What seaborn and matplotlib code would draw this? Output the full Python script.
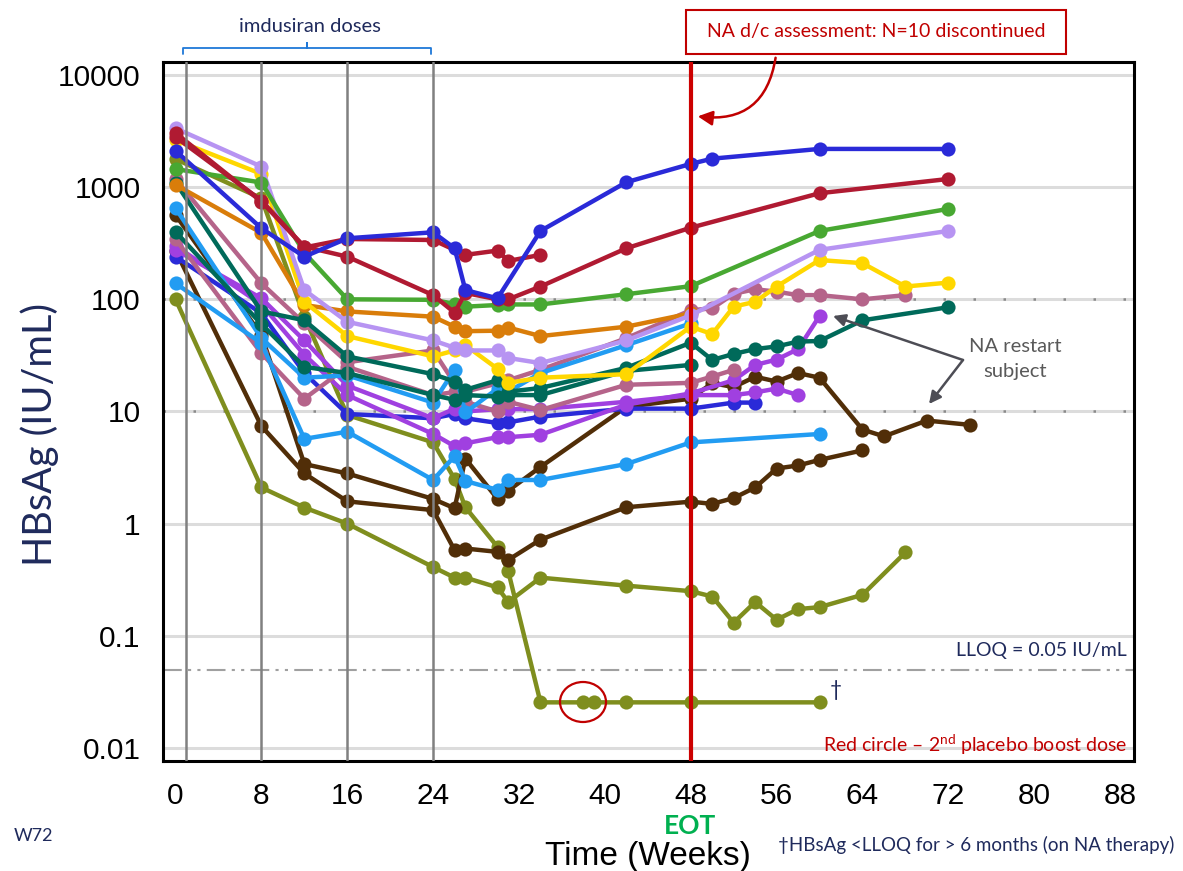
import numpy as np
import pandas as pd
import matplotlib
matplotlib.use("Agg")
import matplotlib.pyplot as plt
import seaborn as sns
from matplotlib.patches import Ellipse, FancyArrowPatch, Rectangle
from matplotlib.lines import Line2D
from matplotlib.ticker import LogLocator, NullFormatter

# ---------------- data (weeks, HBsAg IU/mL) ----------------
wk_blue_hi = [0, 8, 12, 16, 24, 26, 27, 30, 34, 42, 48, 50, 60, 72]
hb_blue_hi = [2110, 430, 240, 350, 396, 285, 121, 102, 407, 1107, 1612, 1795, 2193, 2190]

wk_crimson_a = [0, 8, 12, 16, 24, 26, 27, 30, 31, 34, 42, 48, 60, 72]
hb_crimson_a = [3040, 743, 295, 240, 109, 76, 114, 100, 100, 130, 285, 435, 883, 1183]

wk_crimson_b = [0, 8, 12, 16, 24, 27, 30, 31, 34]
hb_crimson_b = [2800, 760, 290, 345, 338, 249, 272, 220, 249]

wk_green = [0, 8, 12, 16, 24, 26, 27, 30, 31, 34, 42, 48, 60, 72]
hb_green = [1450, 1100, 260, 100, 99, 91, 86, 89, 90, 90, 111, 131, 407, 640]

wk_lavender = [0, 8, 12, 16, 24, 26, 27, 30, 31, 34, 42, 48, 60, 72]
hb_lavender = [3350, 1524, 121, 63, 43, 37, 35, 35, 30, 27, 43, 72, 276, 407]

wk_yellow = [0, 8, 12, 16, 24, 26, 27, 30, 31, 34, 42, 48, 50, 52, 54, 56, 60, 64, 68, 72]
hb_yellow = [2630, 1312, 95, 47, 31, 35, 39, 24, 18, 20, 21.5, 57, 49, 86, 95, 130, 224, 210, 130, 141]

wk_orange = [0, 8, 12, 16, 24, 26, 27, 30, 31, 34, 42, 48]
hb_orange = [1050, 391, 89, 78, 70, 57, 52, 52.5, 56, 47, 57, 75]

wk_teal_a = [0, 8, 12, 16, 24, 26, 27, 30, 31, 34, 42, 48, 50, 52, 54, 56, 58, 60, 64, 72]
hb_teal_a = [1100, 78, 65, 31, 21.5, 18.5, 15.6, 19, 15, 16.2, 24.5, 41, 28.8, 32.6, 36, 38, 42, 42.5, 65, 85]

wk_teal_b = [0, 8, 12, 16, 24, 26, 27, 30, 31, 34, 42, 48]
hb_teal_b = [400, 60, 25, 22, 14, 12.7, 14, 13.6, 14, 14, 23, 26]

wk_ltblue_a = [0, 8, 12, 16, 24, 26, 27, 30, 31, 34, 42, 48]
hb_ltblue_a = [650, 45, 20, 21, 12, 23.5, 9.8, 16, 15, 22, 39, 61]

wk_ltblue_b = [0, 8, 12, 16, 24, 26, 27, 30, 31, 34, 42, 48, 60]
hb_ltblue_b = [139, 40.6, 5.7, 6.6, 2.45, 4.0, 2.4, 2.0, 2.45, 2.45, 3.4, 5.3, 6.3]

wk_mauve_a = [0, 8, 12, 16, 24, 26, 27, 30, 31, 34, 42, 48, 50, 52, 54, 56, 58, 60, 64, 68]
hb_mauve_a = [1175, 139, 61, 27.5, 35, 17.8, 15, 17.8, 19, 23.5, 45, 80, 83, 112, 123, 117, 109, 109, 100, 109]

wk_mauve_b = [0, 8, 12, 16, 24, 26, 27, 30, 31, 34, 42, 48, 50, 52]
hb_mauve_b = [344, 33, 13, 25, 14, 14.9, 12.2, 10, 12.2, 10.3, 17.3, 18, 20.5, 23.5]

wk_purple_a = [0, 8, 12, 16, 24, 26, 27, 30, 31, 34, 42, 48, 52, 54, 56, 58]
hb_purple_a = [276, 102, 43, 17, 8.7, 10.6, 10, 10.5, 10.5, 10.5, 12.2, 14, 14, 14.8, 16, 14]

wk_purple_b = [0, 8, 12, 16, 24, 26, 27, 30, 31, 34, 42, 48, 52, 54, 56, 58, 60]
hb_purple_b = [300, 90, 32, 14, 6.3, 4.9, 5.2, 5.9, 5.9, 6.2, 11.5, 14.5, 19, 26, 29, 36, 71]

wk_blue_lo = [0, 8, 12, 16, 24, 26, 27, 30, 31, 34, 42, 48, 52, 54]
hb_blue_lo = [240, 75, 22, 9.5, 8.7, 9.5, 8.7, 7.9, 8, 9, 10.6, 10.6, 12, 12]

wk_brown_a = [0, 8, 12, 16, 24, 26, 27, 30, 31, 34, 42, 48, 50, 52, 54, 56, 58, 60, 64, 66, 70, 74]
hb_brown_a = [565, 48, 3.4, 2.8, 1.66, 1.37, 3.8, 1.66, 1.97, 3.2, 11, 13, 17.9, 16.5, 20.4, 18.5, 22, 20, 6.9, 6.0, 8.3, 7.6]

wk_brown_b = [0, 8, 12, 16, 24, 26, 27, 30, 31, 34, 42, 48, 50, 52, 54, 56, 58, 60, 64]
hb_brown_b = [272, 7.4, 2.8, 1.58, 1.32, 0.58, 0.6, 0.56, 0.475, 0.72, 1.4, 1.57, 1.5, 1.69, 2.1, 3.1, 3.3, 3.7, 4.5]

wk_olive_a = [0, 8, 12, 16, 24, 26, 27, 30, 31, 34, 42, 48, 50, 52, 54, 56, 58, 60, 64, 68]
hb_olive_a = [100, 2.1, 1.39, 1.0, 0.41, 0.33, 0.33, 0.27, 0.2, 0.33, 0.28, 0.25, 0.224, 0.131, 0.2, 0.139, 0.173, 0.18, 0.232, 0.553]

wk_olive_b = [0, 8, 12, 16, 24, 26, 27, 30, 31, 34, 38, 39, 42, 48, 60]
hb_olive_b = [1780, 795, 70, 9.3, 5.3, 2.5, 1.4, 0.62, 0.375, 0.0255, 0.0255, 0.0255, 0.0255, 0.0255, 0.0255]

subject_names = ["S01", "S02", "S03", "S04", "S05", "S06", "S07", "S08", "S09", "S10",
                 "S11", "S12", "S13", "S14", "S15", "S16", "S17", "S18", "S19", "S20"]
subject_weeks = [wk_olive_b, wk_olive_a, wk_brown_b, wk_brown_a, wk_blue_lo, wk_purple_b, wk_purple_a,
                 wk_mauve_b, wk_mauve_a, wk_ltblue_b, wk_ltblue_a, wk_teal_b, wk_teal_a, wk_orange,
                 wk_yellow, wk_lavender, wk_green, wk_crimson_b, wk_crimson_a, wk_blue_hi]
subject_vals = [hb_olive_b, hb_olive_a, hb_brown_b, hb_brown_a, hb_blue_lo, hb_purple_b, hb_purple_a,
                hb_mauve_b, hb_mauve_a, hb_ltblue_b, hb_ltblue_a, hb_teal_b, hb_teal_a, hb_orange,
                hb_yellow, hb_lavender, hb_green, hb_crimson_b, hb_crimson_a, hb_blue_hi]
subject_colors = ["#7F8E1E", "#7F8E1E", "#512E08", "#512E08", "#2A2AD8", "#A040E0", "#A040E0",
                  "#B5648A", "#B5648A", "#229CF2", "#229CF2", "#006A5A", "#006A5A", "#D97D0A",
                  "#FFD700", "#B794F2", "#48A832", "#B01A32", "#B01A32", "#2A2AD8"]

dose_weeks = [1, 8, 16, 24]
eot_week = 48
lloq = 0.05
ytick_vals = [0.01, 0.1, 1, 10, 100, 1000, 10000]
ytick_labels = ["0.01", "0.1", "1", "10", "100", "1000", "10000"]
xtick_vals = list(range(0, 89, 8))
xtick_labels = [str(v) for v in xtick_vals]

# ---------------- build frame ----------------
frames = []
for name, w, v in zip(subject_names, subject_weeks, subject_vals):
    frames.append(pd.DataFrame({"subject": name, "week": w, "hbsag": v}))
df = pd.concat(frames, ignore_index=True)
palette = dict(zip(subject_names, subject_colors))

sns.set_style("white")
plt.rcParams['font.family'] = ['Liberation Sans', 'DejaVu Sans']
plt.rcParams['mathtext.fontset'] = 'custom'
plt.rcParams['mathtext.rm'] = 'Lato'
plt.rcParams['mathtext.it'] = 'Lato:italic'
plt.rcParams['mathtext.bf'] = 'Lato:bold'

W, H = 1183, 871
fig = plt.figure(figsize=(W / 100, H / 100), dpi=100)
fig.patch.set_facecolor("white")


def fx(x):
    return x / W


def fy(y):
    return 1 - y / H


ax = fig.add_axes([fx(163), fy(761), (1134 - 163) / W, (761 - 62) / H])

navy = "#1F2A5C"
red = "#C00000"

# grid lines
for v in ytick_vals:
    ax.axhline(v, color="#DCDCDC", lw=2.2, zorder=0.5)
for v in [10, 100]:
    ax.axhline(v, color="#8A8A8A", lw=1.8, ls=(0, (1, 11)), zorder=0.6)
ax.axhline(lloq, color="#A0A0A0", lw=1.5, ls=(0, (9, 3, 1.5, 3, 1.5, 3)), zorder=0.7)

sns.lineplot(data=df, x="week", y="hbsag", hue="subject", palette=palette,
             hue_order=subject_names, estimator=None, sort=False,
             marker="o", markersize=10.2, markeredgewidth=0, linewidth=3.2,
             legend=False, ax=ax, zorder=3)

for w in dose_weeks:
    ax.axvline(w, color="#808080", lw=1.8, zorder=5)
ax.axvline(eot_week, color="#CC0000", lw=3, zorder=6)

ax.set_yscale("log")
ax.set_ylim(0.00765, 13060)
ax.set_xlim(-1.17, 89.3)
ax.set_yticks(ytick_vals, labels=ytick_labels)
ax.yaxis.set_minor_locator(LogLocator(base=10, subs=np.arange(2, 10)))
ax.yaxis.set_minor_formatter(NullFormatter())
ax.set_xticks(xtick_vals, labels=xtick_labels)
ax.set_xticks(list(range(4, 89, 8)), minor=True)
ax.tick_params(axis="both", which="major", length=9, width=2, labelsize=21.5,
               direction="out", color="black", labelcolor="black")
ax.tick_params(axis="y", which="major", pad=7)
ax.tick_params(axis="x", which="major", pad=6)
ax.tick_params(axis="both", which="minor", length=5, width=2, direction="out")
ax.tick_params(top=False, right=False, which="both")
ax.set_xlabel("")
ax.set_ylabel("")
for s in ax.spines.values():
    s.set_color("black")
    s.set_linewidth(2.2)
    s.set_visible(True)

# ---------------- annotations ----------------
fig.text(fx(40), fy(435), "HBsAg (IU/mL)", rotation=90, color=navy, fontsize=28.5,
         family="Lato", ha="center", va="center")
fig.text(fx(648), fy(856), "Time (Weeks)", color="black", fontsize=24,
         family="Liberation Sans", ha="center", va="center")

fig.text(fx(310), fy(26), "imdusiran doses", color=navy, fontsize=14.5,
         family="Lato", ha="center", va="center")
brace_x = [183, 183, 307, 307, 307, 431, 431]
brace_y = [54, 48, 48, 43, 48, 48, 54]
fig.add_artist(Line2D([fx(v) for v in brace_x], [fy(v) for v in brace_y],
                      transform=fig.transFigure, color="#1F78D8", lw=1.3))

fig.add_artist(Rectangle((fx(686), fy(54)), fx(1066) - fx(686), fy(10) - fy(54),
                         transform=fig.transFigure, facecolor="white", edgecolor=red, lw=1.5))
fig.text(fx(876), fy(32), "NA d/c assessment: N=10 discontinued", color=red, fontsize=14,
         family="Lato", ha="center", va="center")
fig.add_artist(FancyArrowPatch(posA=(fx(776), fy(55)), posB=(fx(695), fy(116)),
                               transform=fig.transFigure, connectionstyle="arc3,rad=-0.5",
                               arrowstyle="-|>", mutation_scale=22, color=red, lw=1.8))

fig.text(fx(1015), fy(346), "NA restart", color="#595959", fontsize=14.5, family="Lato",
         ha="center", va="center")
fig.text(fx(1015), fy(372), "subject", color="#595959", fontsize=14.5, family="Lato",
         ha="center", va="center")
for tx, ty in [(833, 316), (929, 404)]:
    fig.add_artist(FancyArrowPatch(posA=(fx(963), fy(360)), posB=(fx(tx), fy(ty)),
                                   transform=fig.transFigure, arrowstyle="-|>",
                                   mutation_scale=18, color="#4D4D55", lw=1.8,
                                   shrinkA=0, shrinkB=0))

fig.text(fx(1127), fy(650), "LLOQ = 0.05 IU/mL", color=navy, fontsize=14, family="Lato",
         ha="right", va="center")
fig.text(fx(1127), fy(745), r"Red circle – 2$^{\mathrm{nd}}$ placebo boost dose", color=red,
         fontsize=14, family="Lato", ha="right", va="center")
fig.add_artist(Ellipse((fx(583), fy(702)), 46 / W, 40 / H, transform=fig.transFigure,
                       fill=False, edgecolor=red, lw=1.6))
fig.text(fx(836), fy(690), "†", color=navy, fontsize=15, family="Lato", ha="center", va="center")
fig.text(fx(690), fy(826), "EOT", color="#00B050", fontsize=19, weight="bold", family="Lato",
         ha="center", va="center")
fig.text(fx(778), fy(845), "†HBsAg <LLOQ for > 6 months (on NA therapy)", color=navy,
         fontsize=13.5, family="Lato", ha="left", va="center")
fig.text(fx(14), fy(836), "W72", color=navy, fontsize=13, family="Lato",
         ha="left", va="center")

fig.savefig("out.png", dpi=100, facecolor="white")
